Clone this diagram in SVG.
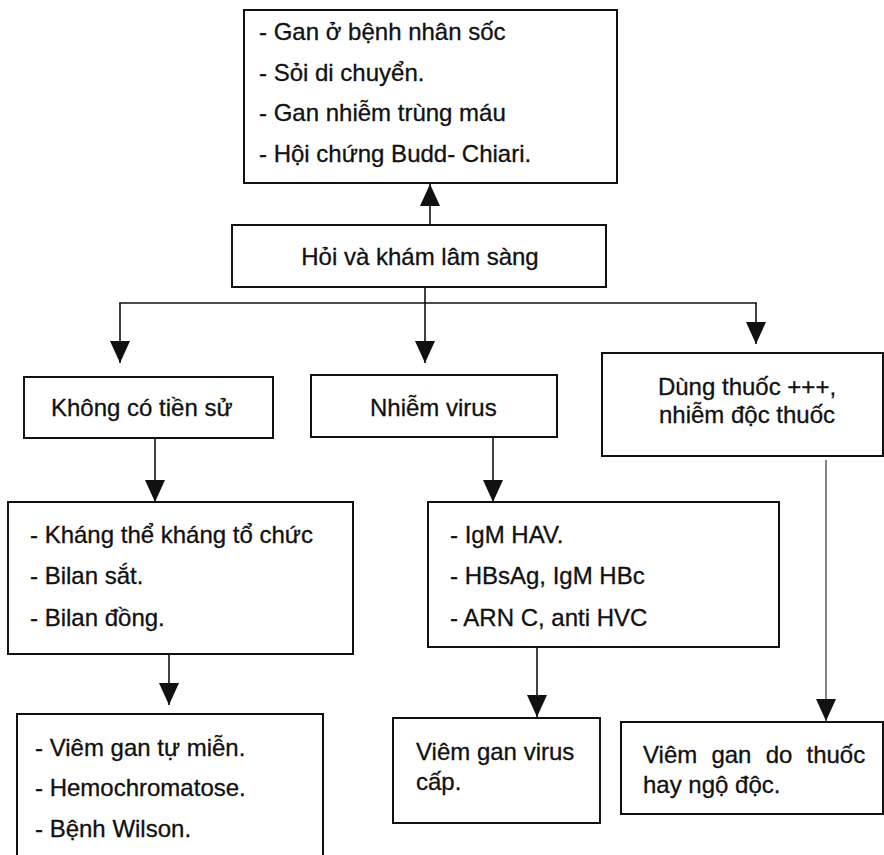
<svg xmlns="http://www.w3.org/2000/svg" width="884" height="855" viewBox="0 0 884 855">
  <style>
    .box { fill: #ffffff; stroke: #111111; stroke-width: 2; }
    .lbl { font-family: "Liberation Sans", Arial, sans-serif; font-size: 24px; fill: #111111; stroke: #111111; stroke-width: 0.3; }
    .wire { fill: none; stroke: #111111; stroke-width: 1.6; }
    .thin { fill: none; stroke: #333333; stroke-width: 1.2; }
  </style>
  <defs>
    <marker id="head" viewBox="0 0 22 20" refX="22" refY="10" markerWidth="22" markerHeight="20" markerUnits="userSpaceOnUse" orient="auto">
      <path d="M0,0 L22,10 L0,20 z" fill="#111111"/>
    </marker>
  </defs>
  <rect width="884" height="855" fill="#ffffff"/>

  <!-- connectors -->
  <g id="connectors">
    <line class="wire" x1="430" y1="225" x2="430" y2="184" marker-end="url(#head)"/>
    <line class="wire" x1="425" y1="287" x2="425" y2="363" marker-end="url(#head)"/>
    <line class="wire" x1="119.2" y1="303" x2="756.8" y2="303"/>
    <line class="wire" x1="120" y1="303" x2="120" y2="363" marker-end="url(#head)"/>
    <line class="wire" x1="756" y1="303" x2="756" y2="344" marker-end="url(#head)"/>
    <line class="wire" x1="155" y1="438" x2="155" y2="502" marker-end="url(#head)"/>
    <line class="wire" x1="493" y1="437" x2="493" y2="502" marker-end="url(#head)"/>
    <line class="wire" x1="169" y1="655" x2="169" y2="705" marker-end="url(#head)"/>
    <line class="wire" x1="537" y1="647" x2="537" y2="717" marker-end="url(#head)"/>
    <line class="thin" x1="826" y1="460" x2="826" y2="721" marker-end="url(#head)"/>
  </g>

  <!-- causes needing exclusion -->
  <g id="causes">
    <rect class="box" x="244" y="10" width="373" height="173"/>
    <text class="lbl" x="259" y="40">- Gan ở bệnh nhân sốc</text>
    <text class="lbl" x="259" y="81">- Sỏi di chuyển.</text>
    <text class="lbl" x="259" y="121">- Gan nhiễm trùng máu</text>
    <text class="lbl" x="259" y="162">- Hội chứng Budd- Chiari.</text>
  </g>

  <!-- clinical exam -->
  <g id="exam">
    <rect class="box" x="232" y="225" width="374" height="62"/>
    <text class="lbl" x="420" y="265" text-anchor="middle">Hỏi và khám lâm sàng</text>
  </g>

  <!-- branch: no history -->
  <g id="no-history">
    <rect class="box" x="24" y="377" width="249" height="61"/>
    <text class="lbl" x="51" y="416">Không có tiền sử</text>
  </g>

  <!-- branch: viral infection -->
  <g id="viral">
    <rect class="box" x="311" y="375" width="246" height="62"/>
    <text class="lbl" x="370" y="416">Nhiễm virus</text>
  </g>

  <!-- branch: drug use -->
  <g id="drug">
    <rect class="box" x="602" y="353" width="281" height="103"/>
    <text class="lbl" x="747" y="395" text-anchor="middle">Dùng thuốc +++,</text>
    <text class="lbl" x="747" y="423" text-anchor="middle">nhiễm độc thuốc</text>
  </g>

  <!-- autoimmune / metabolic tests -->
  <g id="tests-auto">
    <rect class="box" x="8" y="502" width="345" height="152"/>
    <text class="lbl" x="30" y="543">- Kháng thể kháng tổ chức</text>
    <text class="lbl" x="30" y="584">- Bilan sắt.</text>
    <text class="lbl" x="30" y="626">- Bilan đồng.</text>
  </g>

  <!-- viral serology -->
  <g id="tests-viral">
    <rect class="box" x="428" y="502" width="351" height="145"/>
    <text class="lbl" x="450" y="543">- IgM HAV.</text>
    <text class="lbl" x="450" y="584">- HBsAg, IgM HBc</text>
    <text class="lbl" x="450" y="626">- ARN C, anti HVC</text>
  </g>

  <!-- diagnoses -->
  <g id="dx-auto">
    <rect class="box" x="17" y="714" width="306" height="150"/>
    <text class="lbl" x="35" y="756">- Viêm gan tự miễn.</text>
    <text class="lbl" x="35" y="796">- Hemochromatose.</text>
    <text class="lbl" x="35" y="837">- Bệnh Wilson.</text>
  </g>

  <g id="dx-viral">
    <rect class="box" x="393" y="718" width="207" height="105"/>
    <text class="lbl" x="416" y="760">Viêm gan virus</text>
    <text class="lbl" x="416" y="790">cấp.</text>
  </g>

  <g id="dx-drug">
    <rect class="box" x="621" y="722" width="262" height="92"/>
    <text class="lbl" x="643" y="763" word-spacing="7.5">Viêm gan do thuốc</text>
    <text class="lbl" x="643" y="793">hay ngộ độc.</text>
  </g>
</svg>
